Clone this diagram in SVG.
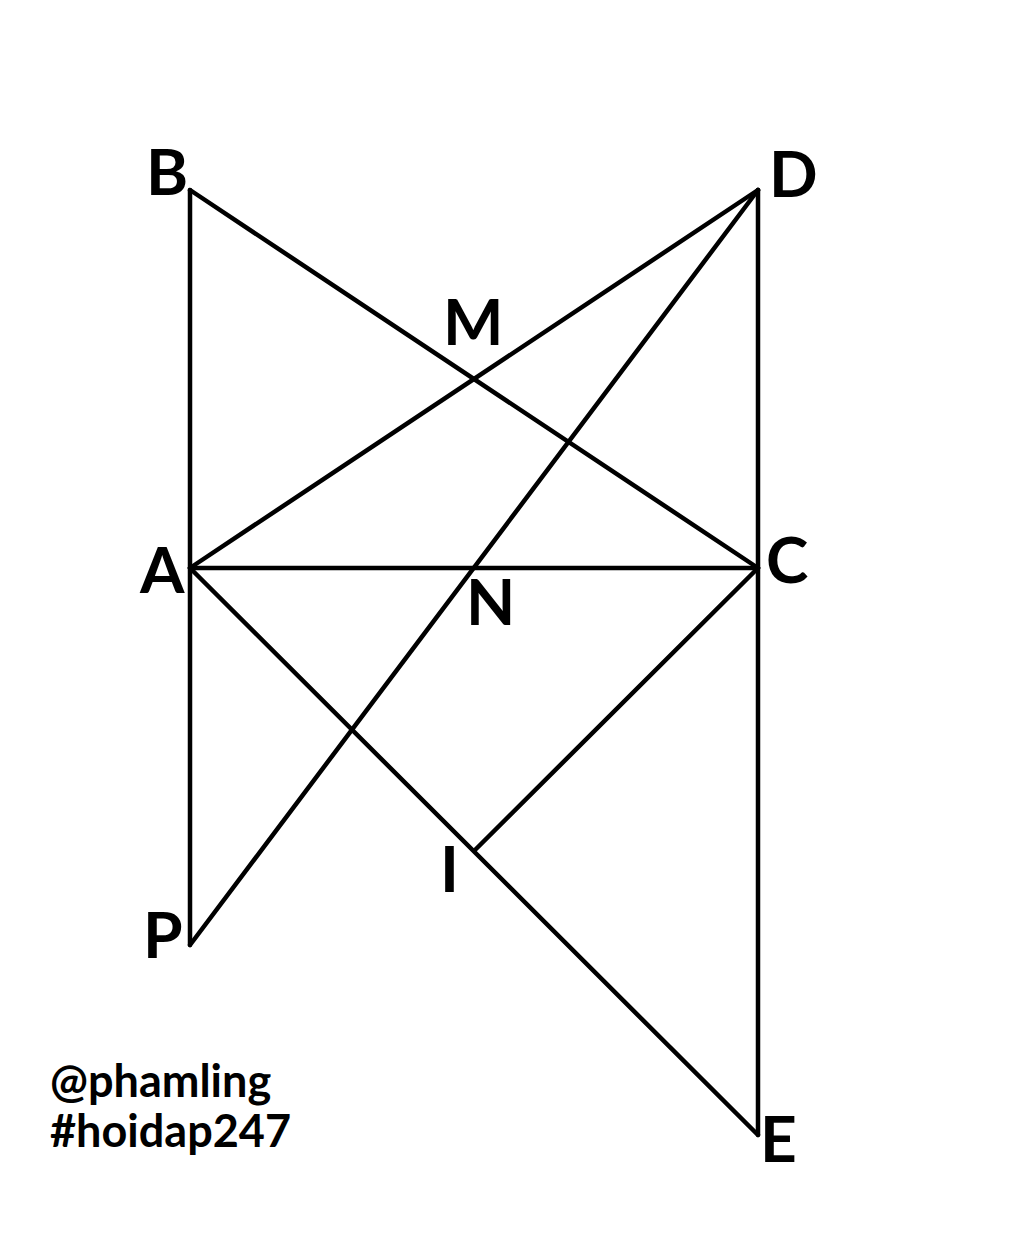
<svg xmlns="http://www.w3.org/2000/svg" width="1024" height="1247" viewBox="0 0 1024 1247">
<style>
.l{stroke:#000;stroke-width:4.5;fill:none;stroke-linecap:round;stroke-linejoin:round}
.t{font-family:Lato,"Liberation Sans",sans-serif;font-weight:bold;font-size:64px;fill:#000}
.w{font-family:Lato,"Liberation Sans",sans-serif;font-weight:bold;font-size:45px;fill:#000}
</style>
<rect width="1024" height="1247" fill="#fff"/>
<g id="connectors">
<line class="l" x1="190" y1="190" x2="190" y2="945"/>
<line class="l" x1="758" y1="190" x2="758" y2="1135"/>
<line class="l" x1="190" y1="190" x2="758" y2="568"/>
<line class="l" x1="190" y1="568" x2="758" y2="190"/>
<line class="l" x1="758" y1="190" x2="190" y2="945"/>
<line class="l" x1="190" y1="568" x2="758" y2="568"/>
<line class="l" x1="190" y1="568" x2="758" y2="1135"/>
<line class="l" x1="758" y1="568" x2="475" y2="850"/>
</g>
<g id="B"><text class="t" x="146" y="195">B</text></g>
<g id="D"><text class="t" x="769" y="197">D</text></g>
<g id="M"><text class="t" x="443" y="345">M</text></g>
<g id="A"><text class="t" x="140" y="593">A</text></g>
<g id="N"><text class="t" x="466" y="625">N</text></g>
<g id="C"><text class="t" x="766" y="583">C</text></g>
<g id="I"><text class="t" x="440" y="892">I</text></g>
<g id="P"><text class="t" x="143" y="958">P</text></g>
<g id="E"><text class="t" x="760" y="1162">E</text></g>
<g id="watermark">
<text class="w" x="50" y="1097">@phamling</text>
<text class="w" x="50" y="1147">#hoidap247</text>
</g>
</svg>
